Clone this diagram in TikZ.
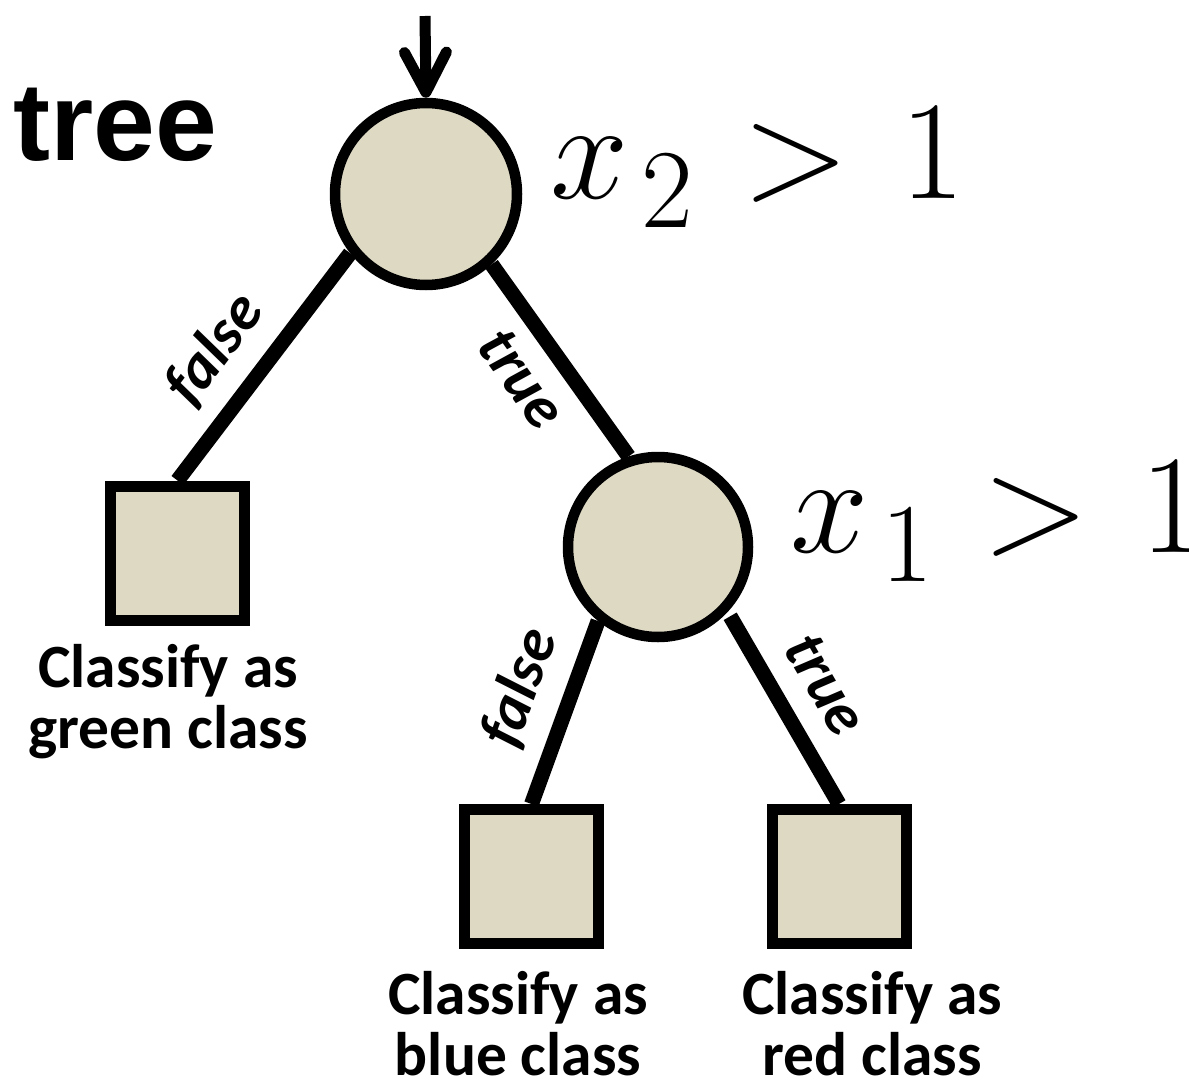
\RequirePackage{fix-cm}
\documentclass[tikz,border=0pt]{standalone}
\usepackage{fontspec}
\newfontfamily\labelfont{Carlito}
\newfontfamily\titlefont{Liberation Sans}
\usetikzlibrary{arrows.meta}
\definecolor{nodefill}{HTML}{DDD9C3}
% larger script size for the split conditions
\DeclareMathSizes{40}{40}{32}{24}
\newcommand\subidx[1]{_{\kern3.5pt\raisebox{-2.3pt}{$\scriptstyle#1$}}}
\newcommand\splitcond[2]{$x\subidx{#1}\kern2.5pt>\kern3.4pt#2$}
\begin{document}
\begin{tikzpicture}[
  test/.style={circle, draw, line width=0.105cm, fill=nodefill,
    minimum size=1.82cm, inner sep=0pt},
  leaf/.style={rectangle, draw, line width=0.11cm, fill=nodefill,
    minimum size=1.34cm, inner sep=0pt},
  edge/.style={line width=0.15cm},
  branch/.style={font=\labelfont\bfseries\itshape\fontsize{17.5}{21}\selectfont,
    sloped, inner sep=0pt},
  outcome/.style={font=\labelfont\bfseries\fontsize{17.5}{17.3}\selectfont,
    align=center, inner sep=0pt, anchor=base},
  cond/.style={font=\fontsize{40}{48}\selectfont, inner sep=0pt, anchor=base west},
]
\useasboundingbox (0,0) rectangle (11.89,10.90);

% title
\node[font=\titlefont\bfseries\fontsize{31.6}{36}\selectfont, inner sep=0pt,
  anchor=base west] (title) at (0.13,9.30) {tree};

% decision nodes and leaves
\node[test] (c1) at (4.26,8.96) {};
\node[test, minimum size=1.80cm] (c2) at (6.58,5.43) {};
\node[leaf] (sq1) at (1.775,5.37) {};
\node[leaf] (sq2) at (5.315,2.135) {};
\node[leaf] (sq3) at (8.39,2.135) {};

% split conditions
\node[cond] (q1) at (5.50,8.92) {\splitcond{2}{1}};
\node[cond] (q2) at (7.90,5.38) {\splitcond{1}{1}};

% entry arrow
\coordinate (entry) at (4.25,10.74);
\draw[line width=0.11cm, -{Straight Barb[length=0.40cm, width=0.42cm, round]}]
  (entry) -- (c1.north);

% branches
\draw[edge] (c1.218) -- node[branch, pos=0.555, above=0.50cm, anchor=center] (b1) {false} (sq1.north);
\draw[edge] (c1.313) -- node[branch, pos=0.47, below=0.415cm, anchor=center] (b2) {true} (c2.108);
\draw[edge] (c2.231) -- node[branch, pos=0.46, above=0.506cm, anchor=center] (b3) {false} (sq2.north);
\draw[edge, shorten <=0.05cm] (c2.317) -- node[branch, pos=0.505, above=0.487cm, anchor=center] (b4) {true} (sq3.north);

% outcomes (base anchor sits on the last line)
\node[outcome] (o1) at (1.68,3.42) {Classify as\\green class};
\node[outcome] (o2) at (5.18,0.15) {Classify as\\blue class};
\node[outcome] (o3) at (8.72,0.15) {Classify as\\red class};
\end{tikzpicture}
\end{document}
